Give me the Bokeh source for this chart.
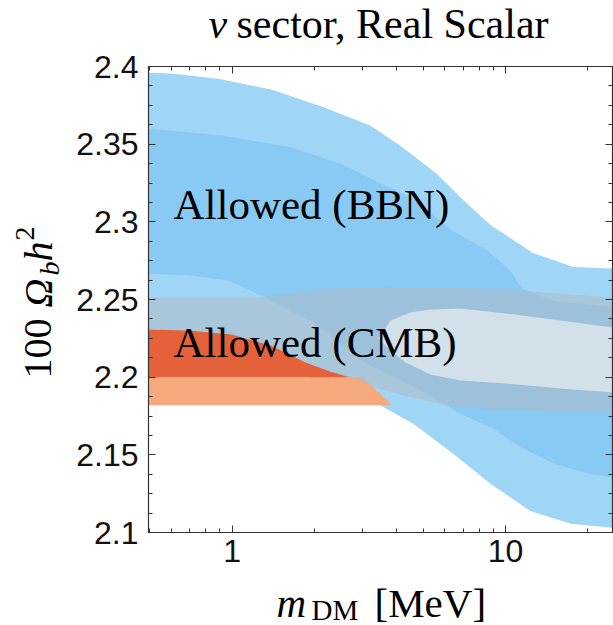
import numpy as np
from bokeh.plotting import figure
from bokeh.layouts import row, column
from bokeh.models import Range1d, FixedTicker, LogAxis, LinearAxis
from bokeh.core.properties import value
from bokeh.embed import file_html
from bokeh.resources import INLINE

# ---------------- data ----------------
# BBN 2-sigma band (light blue)
bbn2_hi_m = [0.495, 0.6, 0.9, 1.4, 2.15, 3.2, 4.2, 5.6, 7.0, 8.8, 12.6, 17.7, 24.6]
bbn2_hi_y = [2.396, 2.3955, 2.392, 2.385, 2.374, 2.362, 2.348, 2.331, 2.314, 2.298, 2.280, 2.271, 2.270]
bbn2_lo_m = [0.495, 1.0, 2.0, 3.49, 4.6, 6.45, 8.83, 12.3, 17.3, 24.6]
bbn2_lo_y = [2.222, 2.215, 2.199, 2.1818, 2.170, 2.1506, 2.1313, 2.1139, 2.1056, 2.103]

# BBN 1-sigma band (darker blue)
bbn1_hi_m = [0.495, 0.93, 1.64, 2.49, 3.49, 4.5, 6.45, 8.6, 10.4, 11.5, 15.0, 24.6]
bbn1_hi_y = [2.360, 2.3556, 2.348, 2.3375, 2.3247, 2.3157, 2.294, 2.2815, 2.2686, 2.257, 2.249, 2.245]
bbn1_lo_m = [0.495, 0.7, 0.97, 1.32, 2.0, 3.0, 4.5, 5.8, 6.67, 8.84, 11.4, 15.0, 19.9, 24.6]
bbn1_lo_y = [2.2667, 2.2655, 2.2622, 2.2513, 2.235, 2.21, 2.195, 2.184, 2.1772, 2.1676, 2.1547, 2.1444, 2.138, 2.1354]

# CMB 2-sigma region (grey)
cmb2_hi_m = [0.495, 1.2, 1.5, 1.86, 2.5, 4.0, 6.5, 10.0, 15.0, 24.6]
cmb2_hi_y = [2.2513, 2.2513, 2.253, 2.2555, 2.2573, 2.2577, 2.2577, 2.2565, 2.254, 2.2513]
cmb2_lo_m = [0.495, 0.7, 1.0, 1.4, 1.86, 2.3, 2.7, 3.49, 4.5, 6.5, 10.0, 15.0, 24.6]
cmb2_lo_y = [2.2307, 2.2300, 2.2275, 2.2200, 2.2094, 2.2035, 2.2000, 2.192, 2.187, 2.181, 2.179, 2.178, 2.1773]

# CMB 1-sigma region (pale)
cmb1_hi_m = [3.43, 3.80, 4.49, 5.32, 6.85, 10.0, 15.9, 24.6]
cmb1_hi_y = [2.2249, 2.2365, 2.2416, 2.2436, 2.2442, 2.2410, 2.2365, 2.2320]
cmb1_lo_m = [3.43, 3.73, 4.31, 5.32, 6.85, 10.0, 15.9, 24.6]
cmb1_lo_y = [2.2249, 2.2185, 2.2094, 2.2017, 2.1979, 2.1959, 2.1927, 2.1901]

# combined region (orange): 1-sigma (dark) and 2-sigma (light)
comb1_m = [0.495, 0.7, 1.0, 1.4, 1.86, 2.3, 2.7]
comb1_hi = [2.2307, 2.2300, 2.2275, 2.2200, 2.2094, 2.2035, 2.2000]
comb1_lo = [2.2, 2.2, 2.2, 2.2, 2.2, 2.2, 2.2]
comb2_hi_m = [0.495, 3.0]
comb2_hi_y = [2.2, 2.2]
comb2_lo_m = [0.495, 3.85]
comb2_lo_y = [2.182, 2.182]

x_ticks = [1, 10]
x_tick_labels = ["1", "10"]
x_minor = [0.5, 0.6, 0.7, 0.8, 0.9, 2, 3, 4, 5, 6, 7, 8, 9, 20]
y_ticks = [2.1, 2.15, 2.2, 2.25, 2.3, 2.35, 2.4]
y_tick_labels = ["2.1", "2.15", "2.2", "2.25", "2.3", "2.35", "2.4"]
y_minor = [round(2.1 + 0.0125 * k, 4) for k in range(25)]

region_labels = ["Allowed (BBN)", "Allowed (CMB)"]
title_parts = ["ν", "sector, Real Scalar"]
xlabel_parts = ["m", "DM", "[MeV]"]
ylabel_parts = ["100", "Ω", "b", "h", "2"]

# ---------------- layout (global pixel geometry) ----------------
W, H = 613, 625
YLW = 68                 # width of the y-label strip
TTH = 48                 # height of the title strip
XLH = 47                 # height of the x-label strip
FL, FR, FT, FB = 148, 612, 66, 532   # plot frame in page pixels
X0, X1 = 0.495, 24.6
Y0, Y1 = 2.1, 2.4
SERIF = "Liberation Serif"
MID = 0.31               # middle-of-text offset above the baseline, in em


def xd(px):
    lx0, lx1 = np.log10(X0), np.log10(X1)
    return float(10 ** (lx0 + (px - FL) / (FR - FL) * (lx1 - lx0)))


def yd(py):
    return float(Y1 - (py - FT) / (FB - FT) * (Y1 - Y0))


def strip(x0, x1, y0, y1):
    """A bare figure covering page pixels [x0,x1] x [y0,y1] (y downwards)."""
    f = figure(width=x1 - x0, height=y1 - y0,
               x_range=Range1d(x0, x1), y_range=Range1d(H - y1, H - y0),
               output_backend="svg", toolbar_location=None,
               x_axis_location=None, y_axis_location=None,
               min_border=0, outline_line_color=None, frame_align=False,
               background_fill_color="white", border_fill_color="white")
    f.xgrid.visible = False
    f.ygrid.visible = False
    return f


def put(f, px, py, text, size, style="normal", rotated=False):
    """Place text whose baseline starts at page pixel (px, py)."""
    s = float(size.replace("px", ""))
    if rotated:
        ax, ay, ang = px - MID * s, py, np.pi / 2
    else:
        ax, ay, ang = px, py - MID * s, 0.0
    f.text(x=[ax], y=[H - ay], text=[text], angle=ang,
           text_font=value(SERIF), text_font_size=value(size),
           text_font_style=style, text_align="left",
           text_baseline="middle", text_color="black")


MW = W - YLW
MH = H - TTH - XLH
p = figure(width=MW, height=MH, x_axis_type="log",
           x_range=Range1d(X0, X1), y_range=Range1d(Y0, Y1),
           output_backend="svg", toolbar_location=None, frame_align=False,
           min_border_left=FL - YLW, min_border_right=W - FR,
           min_border_top=FT - TTH, min_border_bottom=(H - XLH) - FB,
           background_fill_color="white", border_fill_color="white")
p.xgrid.grid_line_color = None
p.ygrid.grid_line_color = None
p.outline_line_color = "#333333"


def band(m_hi, y_hi, m_lo, y_lo):
    xs = list(m_hi) + list(m_lo)[::-1]
    ys = list(y_hi) + list(y_lo)[::-1]
    return xs, ys


LIGHT_BLUE = "#a0d6f5"
DARK_BLUE = "#88caf4"

xs, ys = band(bbn2_hi_m, bbn2_hi_y, bbn2_lo_m, bbn2_lo_y)
p.patch(xs, ys, fill_color=LIGHT_BLUE, line_color=None)
xs, ys = band(bbn1_hi_m, bbn1_hi_y, bbn1_lo_m, bbn1_lo_y)
p.patch(xs, ys, fill_color=DARK_BLUE, line_color=None)

xs, ys = band(comb2_hi_m, comb2_hi_y, comb2_lo_m, comb2_lo_y)
p.patch(xs, ys, fill_color="#f7a97e", line_color=None)
xs, ys = band(comb1_m, comb1_hi, comb1_m, comb1_lo)
p.patch(xs, ys, fill_color="#e5613a", line_color=None)

xs, ys = band(cmb2_hi_m, cmb2_hi_y, cmb2_lo_m, cmb2_lo_y)
p.patch(xs, ys, fill_color="#b2b7bf", fill_alpha=0.5, line_color=None)
xs, ys = band(cmb1_hi_m, cmb1_hi_y, cmb1_lo_m, cmb1_lo_y)
p.patch(xs, ys, fill_color="#d9e4ec", fill_alpha=0.88, line_color=None)

p.text(x=[xd(173), xd(173)], y=[yd(217 - MID * 43), yd(355 - MID * 43)],
       text=region_labels,
       text_font=value(SERIF), text_font_size=value("43px"),
       text_align="left", text_baseline="middle", text_color="black")

# ---------------- axes ----------------
AX = "#333333"


def style_axis(ax, labels=True):
    ax.axis_line_color = AX
    ax.axis_line_width = 1.2
    ax.major_tick_line_color = AX
    ax.minor_tick_line_color = AX
    ax.major_tick_in = 7
    ax.major_tick_out = 0
    ax.minor_tick_in = 4
    ax.minor_tick_out = 0
    if labels:
        ax.major_label_text_font = "Liberation Sans"
        ax.major_label_text_font_size = "32px"
        ax.major_label_text_color = "#111111"
    else:
        ax.major_label_text_font_size = "1px"
        ax.major_label_text_alpha = 0
        ax.major_label_standoff = 0


xt = FixedTicker(ticks=x_ticks, minor_ticks=x_minor)
yt = FixedTicker(ticks=y_ticks, minor_ticks=y_minor)

xa = p.xaxis[0]
xa.ticker = xt
xa.major_label_overrides = dict(zip(x_ticks, x_tick_labels))
style_axis(xa)
xa.major_label_standoff = 7

ya = p.yaxis[0]
ya.ticker = yt
ya.major_label_overrides = dict(zip(y_ticks, y_tick_labels))
style_axis(ya)
ya.major_label_standoff = 10

top = LogAxis(ticker=xt)
style_axis(top, labels=False)
top.major_label_overrides = {t: " " for t in x_ticks}
p.add_layout(top, "above")
right = LinearAxis(ticker=yt)
style_axis(right, labels=False)
right.major_label_overrides = {t: " " for t in y_ticks}
p.add_layout(right, "right")

# ---------------- title, axis labels (separate strips) ----------------
tfig = strip(YLW, W, 0, TTH)
put(tfig, 208, 37, title_parts[0], "42px", "italic")
put(tfig, 236, 37, title_parts[1], "42px")

xfig = strip(YLW, W, H - XLH, H)
put(xfig, 276, 615, xlabel_parts[0], "41px", "italic")
put(xfig, 311, 618, xlabel_parts[1], "29px")
put(xfig, 374, 615, xlabel_parts[2], "41px")

yfig = strip(0, YLW, 0, H)
put(yfig, 50, 378, ylabel_parts[0], "40px", rotated=True)
put(yfig, 50, 307, ylabel_parts[1], "40px", "italic", rotated=True)
put(yfig, 58, 275, ylabel_parts[2], "28px", "italic", rotated=True)
put(yfig, 50, 261, ylabel_parts[3], "40px", "italic", rotated=True)
put(yfig, 33, 240, ylabel_parts[4], "28px", rotated=True)

layout = row(yfig, column(tfig, p, xfig, spacing=0), spacing=0)
open("out.html", "w").write(file_html(layout, INLINE))
